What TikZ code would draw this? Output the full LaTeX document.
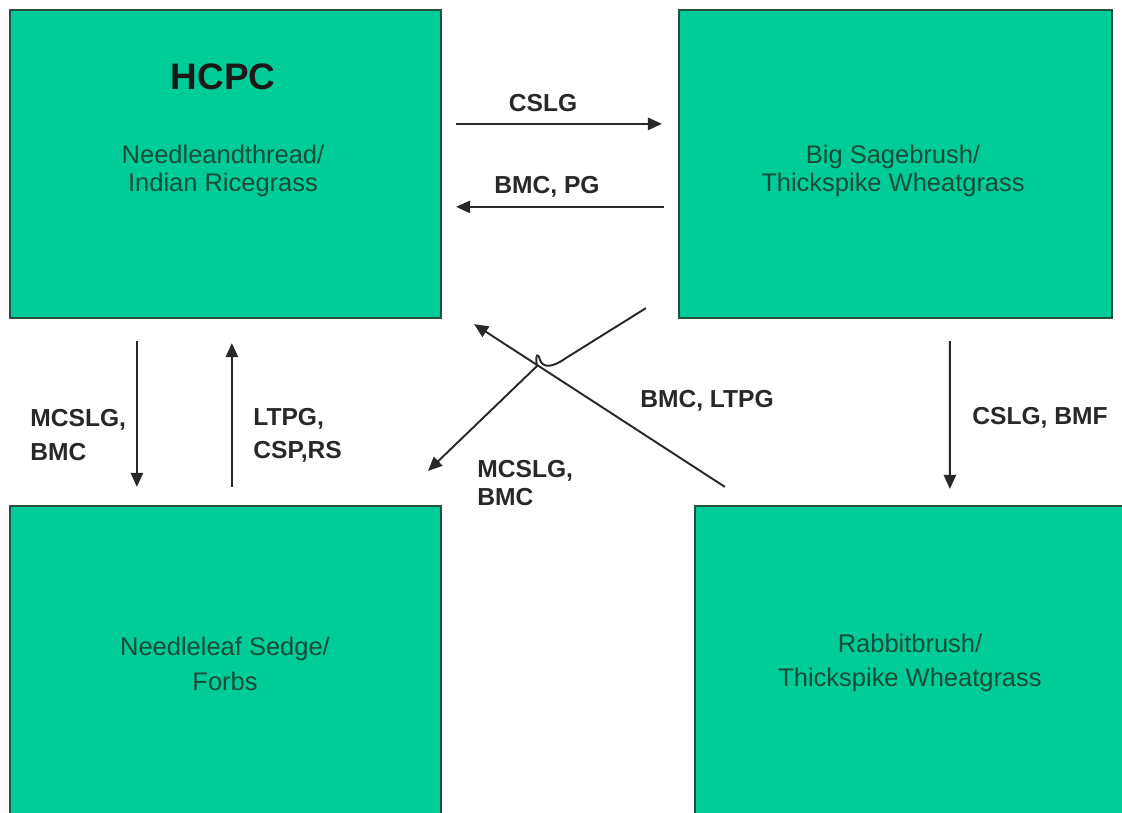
\documentclass[tikz,border=0pt]{standalone}
\usepackage{fontspec}
\setmainfont{Liberation Sans}
\usetikzlibrary{positioning,calc,arrows.meta}

\definecolor{boxgreen}{RGB}{0,204,153}
\definecolor{boxline}{RGB}{36,80,64}
\definecolor{boxtext}{RGB}{22,76,56}
\definecolor{arrowgray}{RGB}{40,40,40}

\tikzset{
    state/.style={draw=boxline, line width=1.3pt, fill=boxgreen, inner sep=0pt},
    statetext/.style={text=boxtext, align=center, font=\fontsize{14.5}{15.5}\selectfont},
    lbl/.style={text=arrowgray, align=left, inner sep=0pt, font=\bfseries\fontsize{14}{19}\selectfont},
    arr/.style={draw=arrowgray, line width=1.1pt, -{Triangle[length=8pt,width=7pt]}}
}

\begin{document}
\begin{tikzpicture}[x=0.02cm, y=-0.02cm]
    \useasboundingbox (0,0) rectangle (1122,812);

    \node[state, minimum width=8.62cm, minimum height=6.16cm] (hcpc) at (225.5,164) {};
    \node[state, minimum width=8.66cm, minimum height=6.16cm] (sage) at (895.5,164) {};
    \node[state, minimum width=8.62cm, minimum height=6.48cm] (sedge) at (225.5,668) {};
    \node[state, minimum width=8.9cm, minimum height=6.48cm] (rabbit) at (917.5,668) {};

    \node[font=\bfseries\fontsize{21}{24}\selectfont, text=black!90] (hcpctitle) at (223,77) {HCPC};
    \node[statetext] (hcpcname) at (223,171) {Needleandthread/\\Indian Ricegrass};
    \node[statetext] (sagename) at (893,171) {Big Sagebrush/\\Thickspike Wheatgrass};
    \node[statetext, font=\fontsize{14.5}{19.5}\selectfont] (sedgename) at (225,664) {Needleleaf Sedge/\\Forbs};
    \node[statetext, font=\fontsize{14.5}{19}\selectfont] (rabbitname) at (910,663) {Rabbitbrush/\\Thickspike Wheatgrass};

    \draw[arr] ($(hcpc.north east)+(14,115)$) -- ($(sage.north west)+(-16,115)$);
    \draw[arr] ($(sage.north west)+(-14,198)$) -- ($(hcpc.north east)+(14,198)$);
    \draw[arr] ($(hcpc.south west)+(128,22)$) -- ($(sedge.north west)+(128,-18)$);
    \draw[arr] ($(sedge.north west)+(223,-18)$) -- ($(hcpc.south west)+(223,24)$);
    \draw[arr] ($(sage.south west)+(272,22)$) -- ($(rabbit.north west)+(256,-16)$);
    \draw[arr] ($(rabbit.north west)+(31,-18)$) -- ($(hcpc.south east)+(32,5)$);
    \draw[arr] ($(sage.south west)+(-32,-11)$) -- (566,358)
        .. controls (552,368) and (543,368) .. (540,360)
        .. controls (538,352) and (535,354) .. (537,366) -- ($(sedge.north east)+(-14,-34)$);

    \node[lbl] (cslg) at (543,103) {CSLG};
    \node[lbl] (bmcpg) at (547,187) {BMC, PG};
    \node[lbl, anchor=west] (mcslgleft) at (30,435) {MCSLG,\\BMC};
    \node[lbl, anchor=west] (ltpg) at (253,435) {LTPG,\\CSP,RS};
    \node[lbl, anchor=west] (cslgbmf) at (972,418) {CSLG, BMF};
    \node[lbl] (bmcltpg) at (707,401) {BMC, LTPG};
    \node[lbl, anchor=west, font=\bfseries\fontsize{14}{16}\selectfont] (mcslgmid) at (477,483) {MCSLG,\\BMC};

\end{tikzpicture}
\end{document}
